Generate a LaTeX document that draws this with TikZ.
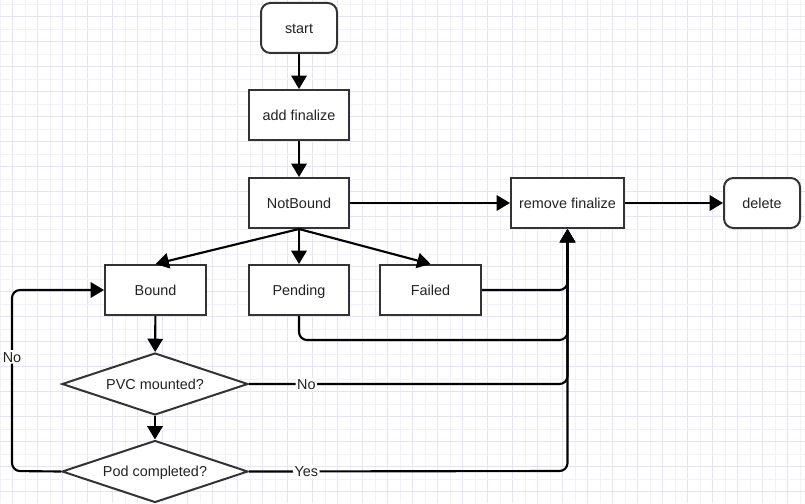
\documentclass[tikz,border=0pt]{standalone}
\usepackage{fontspec}
\setmainfont{Liberation Sans}
\usetikzlibrary{shapes.geometric,arrows.meta}
\definecolor{gridA}{HTML}{E6E2F8}
\definecolor{gridB}{HTML}{F2F0FB}
\definecolor{boxline}{HTML}{333333}
\definecolor{txt}{HTML}{222222}
\tikzset{
  base/.style={draw=boxline, line width=1.5pt, fill=white, text=txt, font=\fontsize{10.8}{12}\selectfont, inner sep=0pt, text height=7.7pt, text depth=0pt},
  box/.style={base, rectangle, minimum width=75pt, minimum height=37.5pt},
  term/.style={base, rectangle, rounded corners=7pt, minimum width=57pt, minimum height=37.5pt},
  decide/.style={base, diamond, aspect=3, minimum width=139.5pt, minimum height=46.5pt},
  conn/.style={draw=black, line width=1.6pt, -{Triangle[length=10pt,width=11.5pt]}, rounded corners=6pt},
  lab/.style={fill=white, text=txt, font=\fontsize{10.8}{12}\selectfont, inner sep=1.2pt, text height=7.7pt, text depth=0pt}
}
\begin{document}
\begin{tikzpicture}[x=0.75pt, y=-0.75pt]
\useasboundingbox (0,0) rectangle (805,503);
\fill[white] (0,0) rectangle (805,503);
\foreach \i in {0,...,32} {
  \draw[gridB, line width=0.6pt] (25*\i,0) -- (25*\i,503);
  \draw[gridA, line width=0.6pt] (12.5+25*\i,0) -- (12.5+25*\i,503);
}
\foreach \j in {0,...,20} {
  \draw[gridB, line width=0.6pt] (0,4.2+25*\j) -- (805,4.2+25*\j);
  \draw[gridA, line width=0.6pt] (0,16.7+25*\j) -- (805,16.7+25*\j);
}
\node[term] (st) at (299,28) {start};
\node[box] (af) at (299,115) {add finalize};
\node[box] (nb) at (299,203) {NotBound};
\node[box, minimum width=84.75pt] (rf) at (567.5,203) {remove finalize};
\node[term] (dl) at (762,203) {delete};
\node[box, minimum width=75.75pt] (bd) at (155.5,290) {Bound};
\node[box] (pd) at (299,290) {Pending};
\node[box, minimum width=75.75pt] (fl) at (430.5,290) {Failed};
\node[decide] (pvc) at (155,384) {PVC mounted?};
\node[decide] (pod) at (155,471.5) {Pod completed?};
\coordinate (pj) at (299,340);
\coordinate (pvcj) at (567.5,384);
\coordinate (podj) at (567.5,471);
\coordinate (lb) at (12,471);
\coordinate (lt) at (12,290);

\draw[conn] (st) -- (af);
\draw[conn] (af) -- (nb);
\draw[conn] (nb) -- (rf);
\draw[conn] (rf) -- (dl);
\draw[conn] (nb.south) -- (bd.north);
\draw[conn] (nb.south) -- (pd.north);
\draw[conn] (nb.south) -- (fl.north);
\draw[conn] (fl.east) -| (rf.south);
\draw[conn] (pd.south) -- (pj) -| (rf.south);
\draw[conn] (pvc.east) -- node[lab, pos=0.18] {No} (pvcj) -- (rf.south);
\draw[conn] (pod.east) -- node[lab, pos=0.18] {Yes} (podj) -- (rf.south);
\draw[conn] (bd) -- (pvc);
\draw[conn] (pvc) -- (pod);
\draw[conn] (pod.west) -- (lb) -- node[lab, pos=0.63] {No} (lt) -- (bd.west);
\end{tikzpicture}
\end{document}
